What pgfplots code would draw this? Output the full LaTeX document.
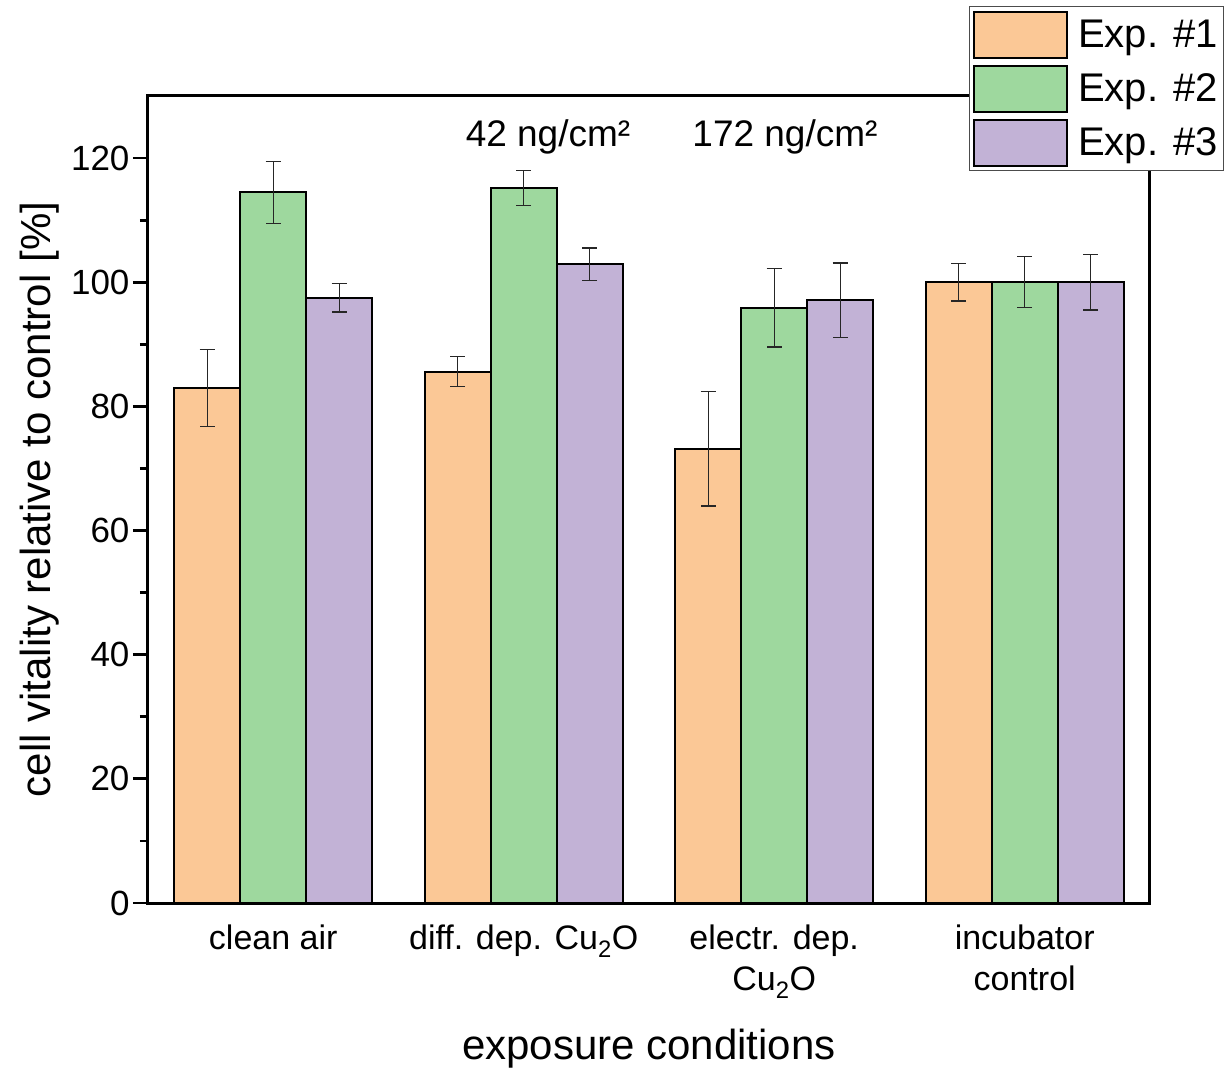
\documentclass[border=0pt]{standalone}
\usepackage{pgfplots}
\pgfplotsset{compat=1.18}
\usepackage{pgfplotstable}
\usepackage{fontspec}
\setmainfont{Liberation Sans}
\definecolor{cOr}{HTML}{FBC896}
\definecolor{cGr}{HTML}{9ED89E}
\definecolor{cPu}{HTML}{C2B2D6}
\pgfplotstableread{
x y e
0 83.0 6.2
1 85.6 2.4
2 73.2 9.25
3 100.0 3.0
}\expA
\pgfplotstableread{
x y e
0 114.5 5.0
1 115.2 2.8
2 95.9 6.35
3 100.0 4.1
}\expB
\pgfplotstableread{
x y e
0 97.5 2.3
1 102.9 2.6
2 97.1 6.0
3 100.0 4.45
}\expC
\begin{document}
\begin{tikzpicture}
\useasboundingbox (-148pt,-166pt) rectangle (1077pt,903pt);
\begin{axis}[
  scale only axis,
  width=1002pt, height=807pt,
  xmin=-0.5, xmax=3.5,
  ymin=0, ymax=130,
  axis line style={line width=3pt},
  tick align=outside,
  xtick pos=bottom, ytick pos=left,
  xtick={0,1,2,3},
  xticklabels={clean air, diff. dep. Cu\textsubscript{2}O, electr. dep.\\Cu\textsubscript{2}O, incubator\\control},
  xticklabel style={align=center, font=\fontsize{34}{41}\selectfont, text depth=0pt, yshift=-3pt},
  x tick style={draw=none},
  extra x ticks={-0.5,0.5,1.5,2.5,3.5},
  extra x tick labels={},
  extra x tick style={major tick length=17pt, tick style={line width=2.8pt, draw=black}},
  ytick={0,20,...,120},
  minor y tick num=1,
  major tick length=15pt, minor tick length=8pt,
  y tick style={line width=2.8pt, black},
  yticklabel style={font=\fontsize{35}{40}\selectfont},
  /pgf/number format/assume math mode=true,
  xlabel={exposure conditions},
  ylabel={cell vitality relative to control [\%]},
  xlabel style={font=\fontsize{42}{48}\selectfont, at={(axis description cs:0.5,-0.181)}, anchor=center},
  ylabel style={font=\fontsize{42}{48}\selectfont, at={(axis description cs:-0.1078,0.5)}, anchor=center},
  ybar, bar width=66pt,
  legend style={at={(axis description cs:1.0739,1.1115)}, anchor=north east,
    draw=black!70, line width=1pt, inner sep=4pt,
    font=\fontsize{40}{46}\selectfont, cells={anchor=west}, row sep=6pt,
    /tikz/every odd column/.append style={column sep=8pt}},
  legend image code/.code={\draw[#1, line width=2pt] (0pt,-23pt) rectangle (93pt,23pt);},
  error bars/error bar style={line width=1.3pt, black!85},
  error bars/error mark options={rotate=90, mark size=7.5pt, line width=1.3pt, black!85},
  clip=false,
]
\addplot[bar shift=-66pt, fill=cOr, draw=black, line width=2pt,
  error bars/.cd, y dir=both, y explicit]
  table[x=x, y=y, y error=e] {\expA};
\addplot[bar shift=0pt, fill=cGr, draw=black, line width=2pt,
  error bars/.cd, y dir=both, y explicit]
  table[x=x, y=y, y error=e] {\expB};
\addplot[bar shift=66pt, fill=cPu, draw=black, line width=2pt,
  error bars/.cd, y dir=both, y explicit]
  table[x=x, y=y, y error=e] {\expC};
\legend{Exp. \#1, Exp. \#2, Exp. \#3}
\node[font=\fontsize{37}{42}\selectfont] at (axis cs:1.097,123.4) {42 ng/cm²};
\node[font=\fontsize{37}{42}\selectfont] at (axis cs:2.043,123.4) {172 ng/cm²};
\end{axis}
\end{tikzpicture}
\end{document}
